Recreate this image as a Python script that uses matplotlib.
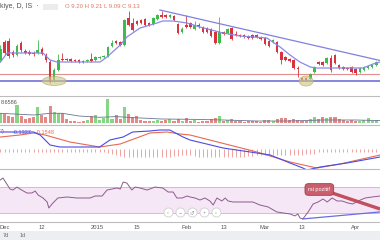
import matplotlib
matplotlib.use("Agg")
import matplotlib.pyplot as plt
from matplotlib.patches import Ellipse, Rectangle
from matplotlib.lines import Line2D

plt.rcParams['font.family'] = ['Liberation Sans', 'DejaVu Sans']

W, H = 380, 240


def fx(px):
    return px / W


def fy(py):
    return 1 - py / H


# gunluk mumlar (Aralik 2014 - Nisan 2015)
opens = [9.25, 9.61, 9.63, 9.41, 9.35, 9.59, 9.43, 9.41, 9.39, 9.39,
         9.47, 9.35, 9.21, 8.83, 9.05, 9.27, 9.27, 9.27, 9.25, 9.25,
         9.23, 9.23, 9.27, 9.25, 9.29, 9.31, 9.33, 9.53, 9.63, 9.61,
         9.55, 10.09, 9.99, 10.03, 10.05, 10.07, 9.99, 9.97, 10.07, 10.15,
         10.15, 10.11, 10.13, 9.97, 9.81, 9.95, 9.99, 9.87, 9.95, 9.91,
         9.89, 9.87, 9.81, 9.59, 9.81, 9.79, 9.89, 9.77, 9.75, 9.75,
         9.73, 9.75, 9.75, 9.69, 9.69, 9.63, 9.61, 9.61, 9.41, 9.31,
         9.27, 9.25, 9.09, 8.89, 8.89, 8.87, 9.01, 9.21, 9.21, 9.19,
         9.29, 9.35, 9.15, 9.11, 9.09, 9.11, 9.07, 9.01, 9.05, 9.09,
         9.11, 9.15]
highs = [9.55, 9.65, 9.69, 9.45, 9.57, 9.63, 9.47, 9.45, 9.43, 9.65,
         9.51, 9.39, 9.25, 9.09, 9.37, 9.39, 9.29, 9.29, 9.27, 9.27,
         9.25, 9.27, 9.39, 9.33, 9.33, 9.35, 9.53, 9.65, 9.65, 9.63,
         10.07, 10.23, 10.09, 10.05, 10.07, 10.09, 10.01, 10.11, 10.17, 10.23,
         10.17, 10.17, 10.15, 9.99, 9.91, 10.15, 10.01, 10.03, 9.99, 9.93,
         9.91, 9.89, 9.83, 10.11, 9.83, 9.89, 9.91, 9.83, 9.77, 9.77,
         9.75, 9.77, 9.77, 9.73, 9.71, 9.65, 9.67, 9.63, 9.43, 9.33,
         9.29, 9.27, 9.13, 8.91, 8.91, 8.99, 9.13, 9.23, 9.23, 9.31,
         9.35, 9.37, 9.17, 9.13, 9.11, 9.13, 9.09, 9.11, 9.13, 9.15,
         9.17, 9.23]
lows = [9.21, 9.35, 9.29, 9.31, 9.33, 9.41, 9.37, 9.35, 9.33, 9.37,
        9.35, 9.21, 8.79, 8.81, 9.03, 9.23, 9.23, 9.21, 9.21, 9.19,
        9.19, 9.21, 9.21, 9.23, 9.27, 9.29, 9.31, 9.51, 9.57, 9.53,
        9.53, 9.93, 9.83, 9.95, 9.97, 9.93, 9.93, 9.95, 10.05, 10.09,
        10.09, 10.09, 10.03, 9.77, 9.79, 9.89, 9.89, 9.85, 9.89, 9.79,
        9.79, 9.71, 9.57, 9.57, 9.75, 9.77, 9.65, 9.73, 9.71, 9.69,
        9.67, 9.67, 9.69, 9.65, 9.55, 9.51, 9.59, 9.39, 9.17, 9.23,
        9.21, 9.07, 8.91, 8.83, 8.83, 8.85, 8.99, 9.15, 9.13, 9.17,
        9.01, 9.17, 9.07, 9.05, 9.05, 8.99, 8.95, 8.99, 9.03, 9.07,
        9.09, 9.13]
closes = [9.47, 9.39, 9.33, 9.35, 9.53, 9.45, 9.39, 9.37, 9.37, 9.45,
          9.37, 9.25, 8.81, 9.05, 9.25, 9.25, 9.25, 9.23, 9.23, 9.21,
          9.21, 9.25, 9.23, 9.31, 9.31, 9.33, 9.51, 9.59, 9.59, 9.55,
          10.05, 9.95, 9.85, 9.97, 9.99, 9.95, 9.95, 10.09, 10.15, 10.11,
          10.11, 10.15, 10.05, 9.79, 9.87, 9.91, 9.91, 9.95, 9.94, 9.81,
          9.81, 9.73, 9.59, 9.81, 9.77, 9.87, 9.67, 9.75, 9.73, 9.71,
          9.69, 9.69, 9.71, 9.68, 9.57, 9.53, 9.65, 9.41, 9.25, 9.25,
          9.23, 9.09, 9.07, 8.85, 8.85, 8.97, 9.11, 9.17, 9.15, 9.29,
          9.05, 9.19, 9.09, 9.07, 9.07, 9.01, 8.99, 9.09, 9.11, 9.13,
          9.15, 9.21]

# hacim (milyon)
volume = [10, 9.3, 7.3, 6, 18.3, 7, 4, 5, 6.5, 16,
          8, 6.5, 17.3, 11.7, 10.7, 10, 4, 2.7, 2.3, 1.7,
          2, 3.3, 7.3, 8.3, 3.3, 5, 24.3, 4, 8.3, 4,
          16, 9.3, 6.7, 7.3, 3.3, 2.7, 2.3, 2.7, 3.3, 2.7,
          3.3, 4, 2.7, 4, 2.7, 5, 2.7, 3.3, 1.7, 2.3,
          2.7, 4, 5, 7.3, 2.7, 3.3, 4, 2, 2.3, 1.7,
          2, 2.3, 2, 1.7, 3.3, 3.3, 2.7, 4.3, 5, 5,
          3.3, 4, 3.3, 2.7, 2.3, 4, 6, 4, 6, 5.7,
          6, 6.7, 4, 3.3, 2.7, 3.3, 2.7, 2.3, 3.3, 5,
          2.7, 3.3]
vol_ma_x = [0, 8, 12, 15, 19, 24, 28, 32, 39, 46, 54, 62, 70, 78, 86, 91.9]
vol_ma = [10, 8.3, 10, 10, 7.3, 6, 6.7, 5.7, 4.3, 4, 3.3, 2.3, 2.3, 3.3, 3.3, 2.7]

# fiyat ortalamasi
ma_x = [0, 1.6, 3, 10.3, 12, 13.7, 24.1, 25.8, 29, 30.6, 33.8, 37.9, 39.3, 41.8,
        45.2, 48.3, 53.9, 58, 64.5, 67.7, 70.1, 72.5, 75, 76.6, 79.8, 84.6, 87.8,
        90.2, 91.9]
ma_vals = [9.21, 9.39, 9.39, 9.39, 9.25, 9.21, 9.21, 9.31, 9.55, 9.71, 9.89, 9.99,
           10.03, 10.03, 9.99, 9.91, 9.79, 9.73, 9.69, 9.51, 9.35, 9.21, 9.11, 9.09,
           9.09, 9.09, 9.09, 9.17, 9.21]

# MACD
macd_x = [0, 8, 9.6, 12, 14.4, 24, 26.5, 29.7, 32, 36.2, 38.6, 41, 44.2, 45.9,
          53.9, 62.1, 65.3, 70.1, 73.2, 74.2, 77.4, 83.9, 91.9]
macd_vals = [0.165, 0.165, 0.135, 0.035, 0.015, 0.015, 0.085, 0.115, 0.165, 0.175,
             0.185, 0.185, 0.115, 0.085, 0.005, -0.045, -0.065, -0.145, -0.195,
             -0.215, -0.185, -0.145, -0.085]
signal_x = [0, 4.7, 8, 10.8, 16.8, 24, 29, 36.2, 40.3, 43.5, 45.9, 62.1, 70.1,
            76.6, 82.2, 91.9]
signal_vals = [0.115, 0.135, 0.155, 0.135, 0.065, 0.015, 0.045, 0.155, 0.165, 0.145,
               0.135, -0.035, -0.135, -0.195, -0.155, -0.065]
hist = [-0.03, -0.035, -0.035, -0.03, -0.03, -0.035, -0.035, -0.03, -0.03, -0.03,
        -0.035, -0.035, -0.035, -0.03, -0.03, -0.03, -0.03, -0.03, -0.03, -0.03,
        -0.03, -0.03, -0.03, -0.03, -0.035, -0.035, -0.04, -0.05, -0.06, -0.075,
        -0.08, -0.08, -0.085, -0.08, -0.08, -0.085, -0.08, -0.08, -0.08, -0.085,
        -0.08, -0.08, -0.075, -0.07, -0.065, -0.065, -0.065, -0.075, -0.08, -0.08,
        -0.08, -0.085, -0.08, -0.08, -0.08, -0.08, -0.085, -0.08, -0.08, -0.08,
        -0.075, -0.075, -0.065, -0.065, -0.065, -0.065, -0.065, -0.065, -0.065, -0.065,
        -0.06, -0.06, -0.06, -0.06, -0.055, -0.05, -0.05, -0.035, -0.035, -0.035,
        -0.035, -0.035, -0.035, -0.035, -0.035, -0.035, -0.035, -0.035, -0.035, -0.035,
        -0.035, -0.035]

# RSI
rsi_x = [-0.1, 0.6, 2.3, 3.0, 4.0, 4.7, 6.4, 7.6, 8.4, 9.1, 10.3, 11.3, 11.7, 12.7,
         13.9, 16.1, 18.5, 21.7, 22.9, 24.6, 25.8, 28.2, 29.0, 29.7, 30.6, 31.8,
         32.6, 33.8, 35.5, 37.4, 39.3, 40.6, 41.8, 42.7, 44.0, 45.2, 45.9, 47.1,
         48.3, 49.5, 50.7, 51.5, 52.4, 53.6, 54.4, 55.1, 56.3, 58.7, 61.1, 62.8,
         64.8, 66.9, 68.4, 70.1, 71.3, 72.0, 72.5, 73.2, 74.5, 75.7, 76.9, 78.1,
         79.1, 80.3, 81.5, 82.7, 84.1, 85.3, 86.6, 88.3, 90.0, 91.9]
rsi_vals = [80, 83, 66.5, 65, 69.5, 66.5, 60.5, 60.5, 63.5, 57.5, 53, 47, 38, 45.5,
            53, 54.5, 53, 53, 56, 56, 65, 68, 66.5, 77, 75.5, 65,
            69.5, 68, 65, 69.5, 68, 62, 62, 53, 53, 56, 54.5, 53,
            50, 53, 48.5, 42.5, 53, 48.5, 53, 48.5, 47, 47, 47, 42.5,
            39.5, 32, 30.5, 29, 26, 29, 23, 21.5, 32, 44, 47, 51.5,
            47, 53, 48.5, 48.5, 45.5, 44, 48.5, 53, 54.5, 56]

tick_pos = [1, 10, 23.5, 33, 45, 54, 64, 73, 86]
tick_labels = ['Dec', '12', '2015', '15', 'Feb', '13', 'Mar', '13', 'Apr']

support = 8.83
red_level = 8.97
trend_x = [38.6, 91.9]
trend_y = [10.25, 9.24]
rsi_trend_x = [73.2, 91.9]
rsi_trend_y = [21.5, 32]

GREEN = '#3dbb4c'
RED = '#d8333f'

n = len(closes)
idx = list(range(n))
xlim = (-0.12, 91.89)

fig = plt.figure(figsize=(3.8, 2.4), dpi=100)
ax = fig.add_axes([0, fy(96), 1, 96 / H])
ax_v = fig.add_axes([0, fy(125), 1, 29 / H])
ax_m = fig.add_axes([0, fy(169), 1, 44 / H])
ax_r = fig.add_axes([0, fy(222), 1, 53 / H])

for a in (ax, ax_v, ax_m, ax_r):
    a.set_xlim(*xlim)
    for s in a.spines.values():
        s.set_visible(False)
    a.set_xticks([])
    a.set_yticks([])

# mumlar
for i in idx:
    o, h, l, c = opens[i], highs[i], lows[i], closes[i]
    col = GREEN if c >= o else RED
    ax.vlines(i, l, h, color=col, lw=0.6, zorder=3)
    ax.bar(i, max(abs(c - o), 0.012), bottom=min(o, c), width=0.62,
           color=col, lw=0, zorder=4)
ax.set_ylim(8.53, 10.45)
ax.axhline(support, color='#8585e0', lw=1.4, zorder=2)
ax.axhline(red_level, color='#e38e8e', lw=0.8, zorder=2)
ax.plot(ma_x, ma_vals, color='#8a8ae8', lw=0.9, zorder=5)
ax.plot(trend_x, trend_y, color='#8080e0', lw=0.9, zorder=5)
ax.add_patch(Ellipse((13.0, 8.83), 5.8, 0.18, fc='#cfc88a', ec='#b0a860',
                     alpha=0.65, lw=0.6, zorder=6))
ax.add_patch(Ellipse((74.0, 8.83), 3.4, 0.2, fc='#cfc88a', ec='#b0a860',
                     alpha=0.65, lw=0.6, zorder=6))

# hacim
vcols = ['#86d686' if closes[i] >= opens[i] else '#e48888' for i in idx]
ax_v.bar(idx, volume, width=0.75, color=vcols, lw=0)
ax_v.plot(vol_ma_x, vol_ma, color='#6a7590', lw=0.6)
ax_v.set_ylim(-1.7, 27.3)

# MACD
ax_m.vlines(idx, 0, hist, color='#e58080', lw=0.5)
ax_m.plot(signal_x, signal_vals, color='#e86a50', lw=0.8)
ax_m.plot(macd_x, macd_vals, color='#4a4ae6', lw=0.8)
ax_m.set_ylim(-0.205, 0.235)

# RSI
ax_r.set_ylim(16.9, 96.6)
ax_r.axhspan(30, 70, color='#f5e7f5', lw=0)
ax_r.axhline(30, color='#c9b7c9', lw=0.6)
ax_r.axhline(70, color='#c9b7c9', lw=0.6)
ax_r.plot(rsi_x, rsi_vals, color='#8c5c8c', lw=0.7)
ax_r.plot(rsi_trend_x, rsi_trend_y, color='#6c6ce0', lw=0.9)
ax_r.plot([80.3, 91.9], [60.5, 36.5], color='#c0505e', lw=2.4,
          solid_capstyle='butt', zorder=6)
ax_r.text(77.2, 65.8, 'rsi pozitif', fontsize=4, color='white', ha='center',
          va='center', zorder=7,
          bbox=dict(boxstyle='round,pad=0.6', fc='#c95f6c', ec='#a53a48', lw=0.6))

# gezinme dugmeleri
nav_x = [40.6, 43.5, 46.4, 49.3, 52.2]
nav_txt = ['\u2039', '\u2212', '\u21ba', '+', '\u203a']
ax_r.plot(nav_x, [31.2] * 5, 'o', ms=6.5, mfc='white', mec='#d0d0d0', mew=0.6,
          ls='none', zorder=6)
for x, t in zip(nav_x, nav_txt):
    ax_r.text(x, 31.2, t, fontsize=4, color='#999999', ha='center', va='center',
              zorder=7)

ax_r.set_xticks(tick_pos)
ax_r.set_xticklabels(tick_labels, fontsize=4.2, color='#555555')
ax_r.tick_params(axis='x', length=0, pad=2)

for py in (96, 125, 169, 222):
    fig.add_artist(Line2D([0, 1], [fy(py), fy(py)], color='#bdbdbd', lw=0.8))

fig.add_artist(Rectangle((0, 0), 1, 9 / H, transform=fig.transFigure,
                         fc='#eceef1', ec='none'))
fig.add_artist(Rectangle((fx(43), fy(10)), 15 / W, 6 / H, transform=fig.transFigure,
                         fc='#ececec', ec='none'))

fig.text(fx(0), fy(7), 'kiye, D, IS  \u00b7', fontsize=5, color='#555555', va='center')
fig.text(fx(65), fy(7), 'O 9.20 H 9.21 L 9.09 C 9.13', fontsize=4.3,
         color='#e07868', va='center')
fig.text(fx(1), fy(103), '8.6586', fontsize=4, color='#555555', va='center')
fig.text(fx(0), fy(132), '7)', fontsize=4, color='#e06050', va='center')
fig.text(fx(13), fy(132), '-0.1327', fontsize=4, color='#4a4ae6', va='center')
fig.text(fx(36), fy(132), '-0.1548', fontsize=4, color='#e86a50', va='center')
fig.text(fx(3), fy(235.5), '7d', fontsize=4, color='#666666', va='center')
fig.text(fx(20), fy(235.5), '1d', fontsize=4, color='#666666', va='center')

fig.savefig('out.png', dpi=100)
